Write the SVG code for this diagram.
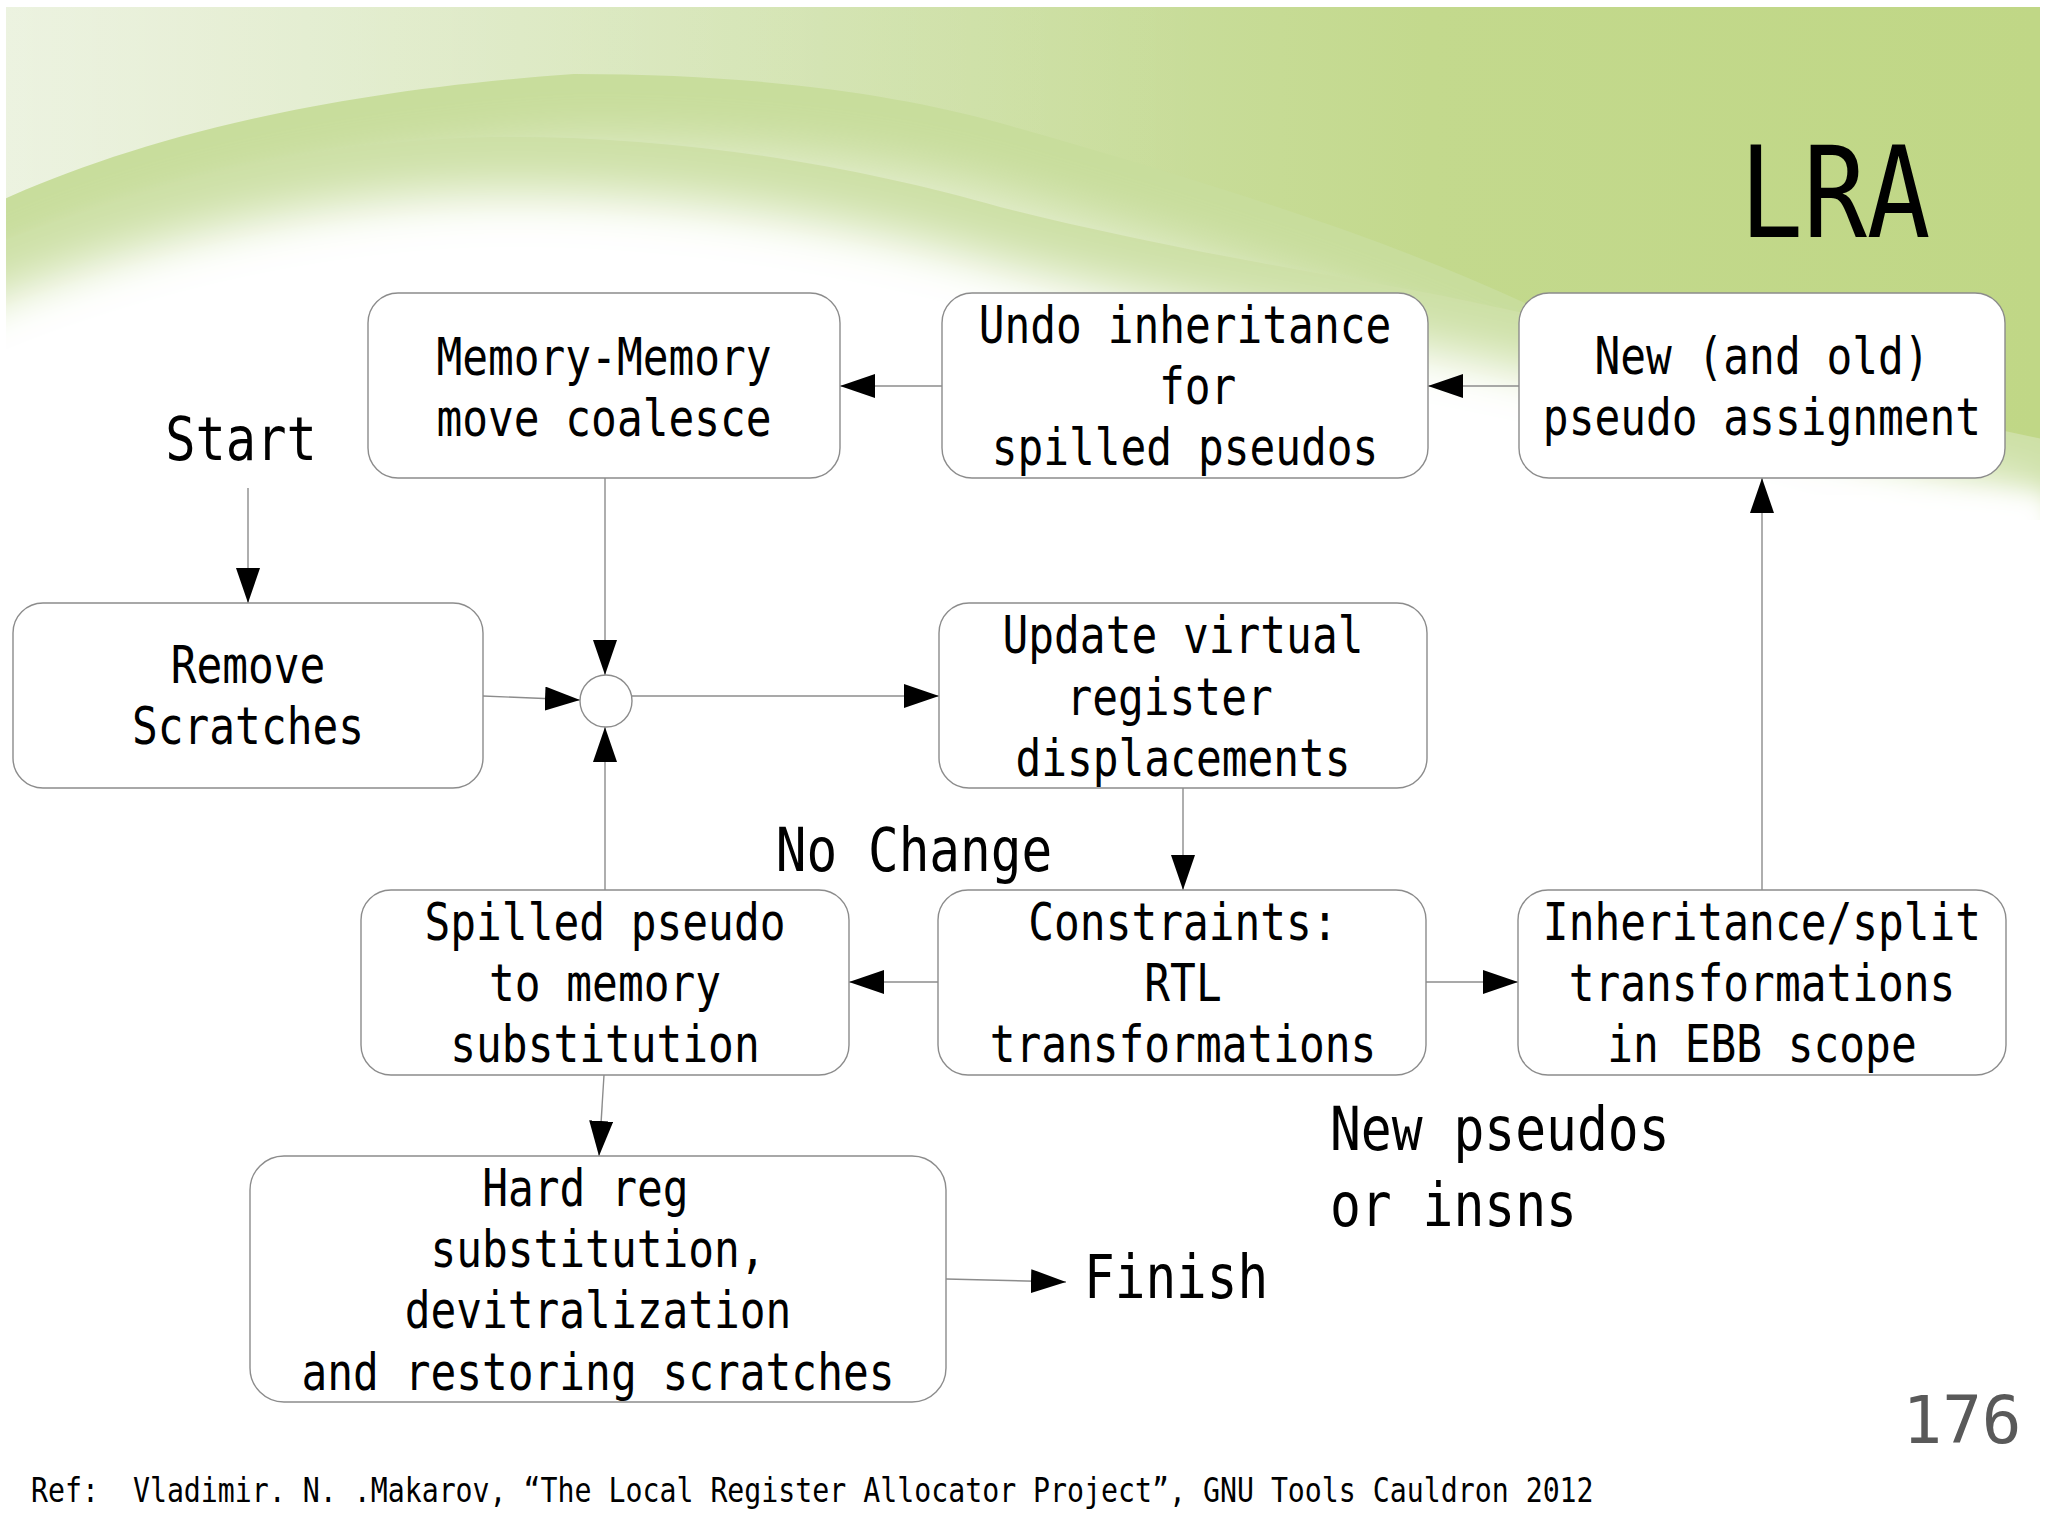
<svg xmlns="http://www.w3.org/2000/svg" width="2048" height="1536" viewBox="0 0 2048 1536">
<defs>
  <style>
    .box { fill: #ffffff; stroke: #8c8c8c; stroke-width: 1.4; }
    .t { font-family: "DejaVu Sans Mono", "Liberation Mono", monospace; fill: #000; }
    .bt { font-size: 51px; text-anchor: middle; }
    .lbl { font-size: 60px; }
    .edge { fill: none; stroke: #8c8c8c; stroke-width: 1.4; marker-end: url(#arr); }
  </style>
  <marker id="arr" markerUnits="userSpaceOnUse" markerWidth="36" markerHeight="24" refX="35" refY="12" orient="auto">
    <path d="M0,0 L35,12 L0,24 Z" fill="#000"/>
  </marker>
  <linearGradient id="bgH" x1="0" y1="0" x2="1" y2="0">
    <stop offset="0" stop-color="#e2ecd0"/>
    <stop offset="0.4" stop-color="#cfe1aa"/>
    <stop offset="0.7" stop-color="#c3d98d"/>
    <stop offset="1" stop-color="#c0d786"/>
  </linearGradient>
  <linearGradient id="lightTL" x1="0" y1="0" x2="1" y2="0">
    <stop offset="0" stop-color="#ffffff" stop-opacity="0.35"/>
    <stop offset="1" stop-color="#ffffff" stop-opacity="0"/>
  </linearGradient>
  <filter id="soft" x="-20%" y="-30%" width="140%" height="160%">
    <feGaussianBlur stdDeviation="26"/>
  </filter>
  <filter id="soft2" x="-20%" y="-50%" width="140%" height="200%">
    <feGaussianBlur stdDeviation="12"/>
  </filter>
  <path id="arc1" d="M-120,265 C0,190 200,100 574,74 C760,74 900,95 1000,123 C1200,180 1400,240 1560,320 C1750,390 1900,425 2048,450 L2048,640 L-120,640 Z"/>
  <path id="arc2" d="M-120,300 C0,230 250,137 510,137 C700,137 870,170 1000,207 C1150,245 1300,270 1412,290 C1650,335 1850,400 2048,440 L2048,640 L-120,640 Z"/>
</defs>

<g id="background">
  <rect x="0" y="0" width="2048" height="1536" fill="#ffffff"/>
  <rect x="6" y="7" width="2034" height="500" fill="url(#bgH)"/>
  <rect x="6" y="7" width="1200" height="300" fill="url(#lightTL)"/>
  <use href="#arc1" fill="#c8dd9c"/>
  <use href="#arc1" fill="#ffffff" opacity="0.55" transform="translate(0 70)" filter="url(#soft)"/>
  <use href="#arc2" fill="#cde0a6"/>
  <use href="#arc2" fill="#ffffff" transform="translate(0 55)" filter="url(#soft)"/>
  <use href="#arc2" fill="#ffffff" transform="translate(0 110)" filter="url(#soft)"/>
  <rect x="0" y="495" width="2048" height="50" fill="#ffffff" filter="url(#soft2)"/>
  <rect x="0" y="520" width="2048" height="1016" fill="#ffffff"/>
  <rect x="0" y="0" width="2048" height="7" fill="#ffffff"/>
  <rect x="0" y="0" width="6" height="560" fill="#ffffff"/>
  <rect x="2040" y="0" width="8" height="560" fill="#ffffff"/>
</g>

<g id="title">
  <text class="t" font-size="126" text-anchor="middle" transform="translate(1835 0) scale(0.84 1)" x="0" y="237">LRA</text>
</g>

<g id="connectors">
  <line class="edge" x1="248" y1="488" x2="248" y2="603"/>
  <line class="edge" x1="605" y1="478" x2="605" y2="675"/>
  <line class="edge" x1="483" y1="696" x2="580" y2="700"/>
  <line class="edge" x1="605" y1="890" x2="605" y2="727"/>
  <line class="edge" x1="632" y1="696" x2="939" y2="696"/>
  <line class="edge" x1="1183" y1="788" x2="1183" y2="890"/>
  <line class="edge" x1="938" y1="982" x2="849" y2="982"/>
  <line class="edge" x1="1426" y1="982" x2="1518" y2="982"/>
  <line class="edge" x1="1762" y1="890" x2="1762" y2="478"/>
  <line class="edge" x1="1519" y1="386" x2="1428" y2="386"/>
  <line class="edge" x1="942" y1="386" x2="840" y2="386"/>
  <line class="edge" x1="604" y1="1075" x2="599" y2="1156"/>
  <line class="edge" x1="946" y1="1279" x2="1066" y2="1282"/>
</g>

<g id="junction">
  <circle cx="606" cy="701" r="26" fill="#ffffff" stroke="#8c8c8c" stroke-width="1.4"/>
</g>

<g id="node-memory">
  <rect class="box" x="368" y="293" width="472" height="185" rx="30"/>
  <g transform="translate(604 0) scale(0.84 1)">
    <text class="t bt" x="0" y="375">Memory-Memory</text>
    <text class="t bt" x="0" y="436">move coalesce</text>
  </g>
</g>

<g id="node-undo">
  <rect class="box" x="942" y="293" width="486" height="185" rx="30"/>
  <g transform="translate(1185 0) scale(0.84 1)">
    <text class="t bt" x="0" y="343">Undo inheritance</text>
    <text class="t bt" x="15" y="404">for</text>
    <text class="t bt" x="0" y="465">spilled pseudos</text>
  </g>
</g>

<g id="node-new">
  <rect class="box" x="1519" y="293" width="486" height="185" rx="30"/>
  <g transform="translate(1762 0) scale(0.84 1)">
    <text class="t bt" x="0" y="374">New (and old)</text>
    <text class="t bt" x="0" y="435">pseudo assignment</text>
  </g>
</g>

<g id="node-remove">
  <rect class="box" x="13" y="603" width="470" height="185" rx="30"/>
  <g transform="translate(248 0) scale(0.84 1)">
    <text class="t bt" x="0" y="683">Remove</text>
    <text class="t bt" x="0" y="744">Scratches</text>
  </g>
</g>

<g id="node-update">
  <rect class="box" x="939" y="603" width="488" height="185" rx="30"/>
  <g transform="translate(1183 0) scale(0.84 1)">
    <text class="t bt" x="0" y="653">Update virtual</text>
    <text class="t bt" x="-16" y="715">register</text>
    <text class="t bt" x="0" y="776">displacements</text>
  </g>
</g>

<g id="node-spilled">
  <rect class="box" x="361" y="890" width="488" height="185" rx="30"/>
  <g transform="translate(605 0) scale(0.84 1)">
    <text class="t bt" x="0" y="940">Spilled pseudo</text>
    <text class="t bt" x="0" y="1001">to memory</text>
    <text class="t bt" x="0" y="1062">substitution</text>
  </g>
</g>

<g id="node-constraints">
  <rect class="box" x="938" y="890" width="488" height="185" rx="30"/>
  <g transform="translate(1183 0) scale(0.84 1)">
    <text class="t bt" x="0" y="940">Constraints:</text>
    <text class="t bt" x="0" y="1001">RTL</text>
    <text class="t bt" x="0" y="1062">transformations</text>
  </g>
</g>

<g id="node-inheritance">
  <rect class="box" x="1518" y="890" width="488" height="185" rx="30"/>
  <g transform="translate(1762 0) scale(0.84 1)">
    <text class="t bt" x="0" y="940">Inheritance/split</text>
    <text class="t bt" x="0" y="1001">transformations</text>
    <text class="t bt" x="0" y="1062">in EBB scope</text>
  </g>
</g>

<g id="node-hardreg">
  <rect class="box" x="250" y="1156" width="696" height="246" rx="34"/>
  <g transform="translate(598 0) scale(0.84 1)">
    <text class="t bt" x="-15" y="1206">Hard reg</text>
    <text class="t bt" x="0" y="1267">substitution,</text>
    <text class="t bt" x="0" y="1328">devitralization</text>
    <text class="t bt" x="0" y="1390">and restoring scratches</text>
  </g>
</g>

<g id="labels">
  <text class="t lbl" text-anchor="middle" transform="translate(241 0) scale(0.84 1)" x="0" y="460">Start</text>
  <text class="t lbl" text-anchor="middle" transform="translate(914 0) scale(0.85 1)" x="0" y="871">No Change</text>
  <g transform="translate(1330 0) scale(0.855 1)">
    <text class="t lbl" x="0" y="1150">New pseudos</text>
    <text class="t lbl" x="0" y="1226">or insns</text>
  </g>
  <text class="t lbl" transform="translate(1084 0) scale(0.85 1)" x="0" y="1298">Finish</text>
  <text class="t" font-size="66" text-anchor="middle" style="fill:#595959" x="1962" y="1443">176</text>
  <text class="t" font-size="34" xml:space="preserve" transform="translate(31 0) scale(0.83 1)" x="0" y="1502">Ref:  Vladimir. N. .Makarov, “The Local Register Allocator Project”, GNU Tools Cauldron 2012</text>
</g>
</svg>
